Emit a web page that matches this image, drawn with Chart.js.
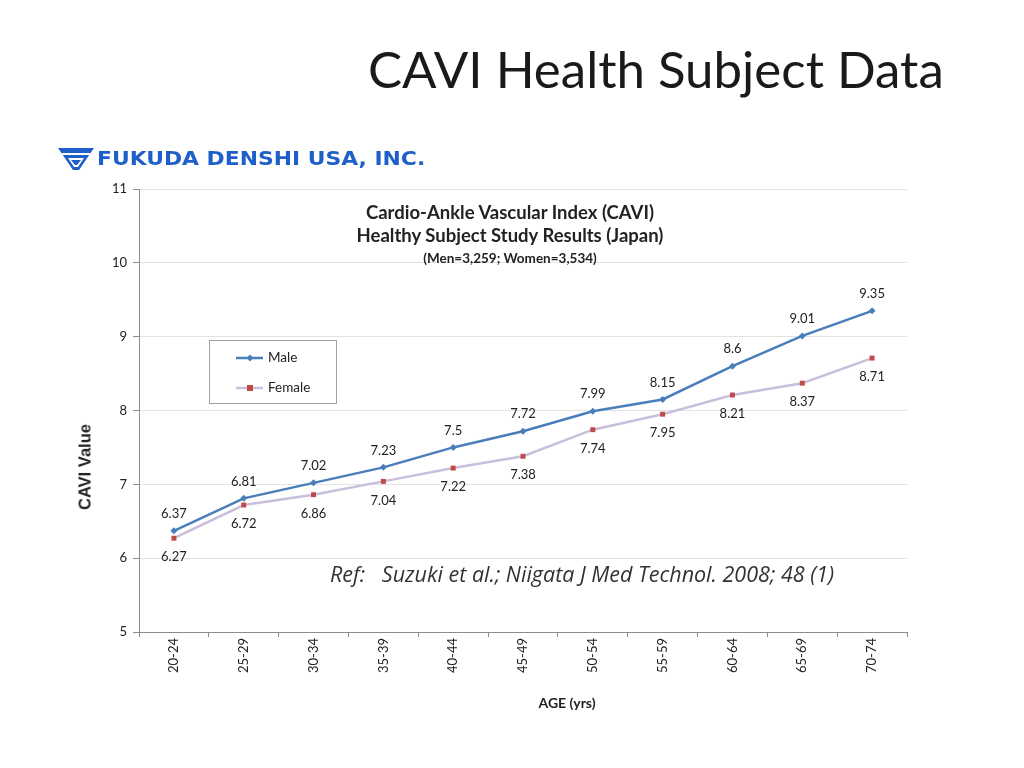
<!DOCTYPE html>
<html>
<head>
<meta charset="utf-8">
<script src="https://cdn.jsdelivr.net/npm/chart.js@4.4.1/dist/chart.umd.min.js"></script>
<style>
  body { margin: 0; background: #fff; font-family: Lato, "Open Sans", sans-serif; }
  #wrap { position: relative; width: 1024px; height: 768px; overflow: hidden; }
  #chart { position: absolute; left: 0; top: 0; }
  .txt { position: absolute; white-space: nowrap; color: #222; }
  #heading { left: 368px; top: 38px; font-size: 51px; color: #1a1a1a; }
  #logo { left: 58px; top: 146px; height: 26px; }
  #logoText { left: 97px; top: 147px; font-family: "DejaVu Sans", sans-serif; font-weight: bold;
    font-size: 19px; color: #1f5fc9; transform-origin: 0 0; transform: scaleX(1.15); }
  .ctitle { font-weight: bold; color: #222; text-align: center; width: 400px; left: 310px; }
  #ref { left: 330px; top: 559px; font-family: "Open Sans", sans-serif; font-size: 21.5px; font-style: italic; color: #333; }
  #ytitle { left: 85px; top: 467px; font-family: "Liberation Sans", Arial, sans-serif; font-weight: bold; font-size: 16.5px; transform: translate(-50%, -50%) rotate(-90deg); }
  #xtitle { left: 567px; top: 702px; font-weight: bold; font-size: 14px; transform: translate(-50%, -50%); }
</style>
</head>
<body>
<div id="wrap">
  <canvas id="chart" width="1024" height="768"></canvas>
  <div class="txt" id="heading">CAVI Health Subject Data</div>
  <svg class="txt" id="logo" width="36" height="26" viewBox="0 0 36 26">
    <polygon points="0,2 36,2 21,24 15,24" fill="#1f5fc9"/>
    <rect x="4" y="7" width="28" height="2" fill="#fff"/>
    <polygon points="10,12 26,12 20,21 16,21" fill="#fff"/>
    <polygon points="13,14 23,14 19,19 17,19" fill="#1f5fc9"/>
  </svg>
  <div class="txt" id="logoText">FUKUDA DENSHI USA, INC.</div>
  <div class="txt ctitle" style="top:201px;font-size:18.5px;">Cardio-Ankle Vascular Index (CAVI)</div>
  <div class="txt ctitle" style="top:224px;font-size:18.5px;">Healthy Subject Study Results (Japan)</div>
  <div class="txt ctitle" style="top:250px;font-size:13.5px;">(Men=3,259; Women=3,534)</div>
  <div class="txt" id="ref">Ref:&nbsp;&nbsp; Suzuki et al.; Niigata J Med Technol. 2008; 48 (1)</div>
  <div class="txt" id="ytitle">CAVI Value</div>
  <div class="txt" id="xtitle">AGE (yrs)</div>
</div>
<script>
const ageGroups = ['20-24', '25-29', '30-34', '35-39', '40-44', '45-49', '50-54', '55-59', '60-64', '65-69', '70-74'];
const maleCavi = [6.37, 6.81, 7.02, 7.23, 7.5, 7.72, 7.99, 8.15, 8.6, 9.01, 9.35];
const femaleCavi = [6.27, 6.72, 6.86, 7.04, 7.22, 7.38, 7.74, 7.95, 8.21, 8.37, 8.71];
const yTicks = [5, 6, 7, 8, 9, 10, 11];

const maleColor = '#4a7ebb';
const femaleLine = '#c9bfdc';
const femaleMarker = '#be4b48';

// value labels: male above the point, female below
const valueLabels = {
  id: 'valueLabels',
  afterDatasetsDraw(chart) {
    const ctx = chart.ctx;
    ctx.save();
    ctx.font = '13px Lato, sans-serif';
    ctx.fillStyle = '#222';
    ctx.textAlign = 'center';
    ctx.textBaseline = 'middle';
    chart.data.datasets.forEach((ds, i) => {
      const meta = chart.getDatasetMeta(i);
      meta.data.forEach((pt, j) => {
        const dy = i === 0 ? -17 : 19;
        ctx.fillText(String(ds.data[j]), pt.x, pt.y + dy);
      });
    });
    ctx.restore();
  }
};

// boxed legend inside the plot
const boxLegend = {
  id: 'boxLegend',
  afterDraw(chart) {
    const ctx = chart.ctx;
    ctx.save();
    ctx.fillStyle = '#fff';
    ctx.fillRect(209, 340, 127, 63);
    ctx.strokeStyle = '#a0a0a0';
    ctx.lineWidth = 1;
    ctx.strokeRect(209.5, 340.5, 127, 63);
    chart.data.datasets.forEach((ds, i) => {
      const y = i === 0 ? 358 : 388;
      ctx.strokeStyle = ds.borderColor;
      ctx.lineWidth = 2.5;
      ctx.beginPath();
      ctx.moveTo(236, y);
      ctx.lineTo(263, y);
      ctx.stroke();
      ctx.fillStyle = ds.pointBackgroundColor;
      if (i === 0) {
        ctx.beginPath();
        ctx.moveTo(250, y - 3.5); ctx.lineTo(253.5, y); ctx.lineTo(250, y + 3.5); ctx.lineTo(246.5, y);
        ctx.closePath();
        ctx.fill();
      } else {
        ctx.fillRect(247, y - 3, 6, 6);
      }
      ctx.fillStyle = '#222';
      ctx.font = '13.5px Lato, sans-serif';
      ctx.textAlign = 'left';
      ctx.textBaseline = 'middle';
      ctx.fillText(ds.label, 268, y);
    });
    ctx.restore();
  }
};

new Chart(document.getElementById('chart'), {
  type: 'line',
  data: {
    labels: ageGroups,
    datasets: [
      {
        label: 'Male',
        data: maleCavi,
        borderColor: maleColor,
        borderWidth: 2.5,
        pointStyle: 'rectRot',
        pointRadius: 3.5,
        pointBackgroundColor: maleColor,
        pointBorderColor: maleColor,
        pointBorderWidth: 0,
        tension: 0,
      },
      {
        label: 'Female',
        data: femaleCavi,
        borderColor: femaleLine,
        borderWidth: 2.5,
        pointStyle: 'rect',
        pointRadius: 3.5,
        pointBackgroundColor: femaleMarker,
        pointBorderColor: femaleMarker,
        pointBorderWidth: 0,
        tension: 0,
      },
    ],
  },
  options: {
    responsive: false,
    animation: false,
    layout: { padding: { left: 0, top: 189, right: 117, bottom: 0 } },
    plugins: { legend: { display: false }, tooltip: { enabled: false } },
    scales: {
      x: {
        offset: true,
        afterFit(scale) { scale.height = 136; },
        grid: { display: true, drawOnChartArea: false, offset: true, tickLength: 5, tickColor: '#8c8c8c' },
        border: { color: '#8c8c8c' },
        ticks: { minRotation: 90, maxRotation: 90, padding: 1, color: '#222', font: { family: 'Lato', size: 13 } },
      },
      y: {
        min: 5,
        max: 11,
        afterFit(scale) { scale.width = 139; },
        afterBuildTicks(scale) { scale.ticks = yTicks.map(v => ({ value: v })); },
        grid: { color: '#e3e3e3', tickLength: 6, tickColor: '#8c8c8c' },
        border: { color: '#8c8c8c' },
        ticks: { padding: 6, color: '#222', font: { family: 'Lato', size: 13 } },
      },
    },
  },
  plugins: [valueLabels, boxLegend],
});
</script>
</body>
</html>
